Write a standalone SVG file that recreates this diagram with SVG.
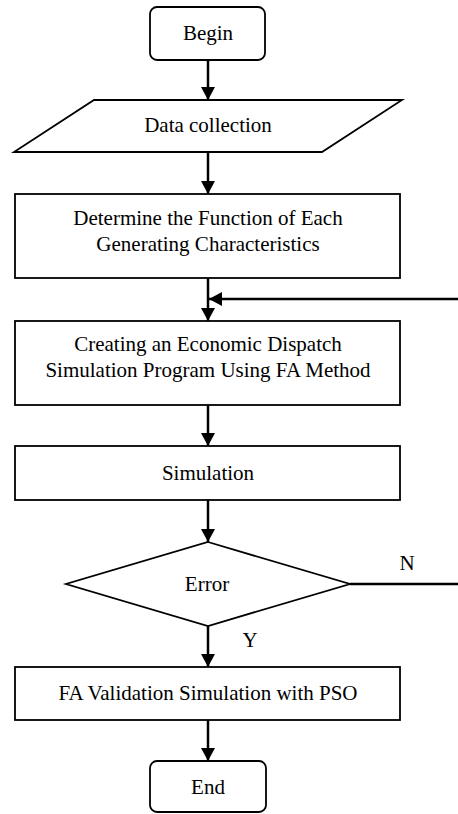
<svg xmlns="http://www.w3.org/2000/svg" width="458" height="814" viewBox="0 0 458 814">
<defs>
<style>
.shape{fill:#fff;stroke:#000;stroke-width:1.8}
.t{font-family:"Liberation Serif","Times New Roman",serif;font-size:21px;fill:#000;text-anchor:middle}
.c{fill:none;stroke:#000;stroke-width:2.5}
</style>
<marker id="ah" markerUnits="userSpaceOnUse" markerWidth="14" markerHeight="14" refX="13" refY="7" orient="auto">
<path d="M0,0 L13,7 L0,14 Z" fill="#000"/>
</marker>
</defs>
<rect width="458" height="814" fill="#fff"/>
<g id="connectors">
<line class="c" x1="208" y1="60" x2="208" y2="100" marker-end="url(#ah)"/>
<line class="c" x1="208" y1="152" x2="208" y2="194" marker-end="url(#ah)"/>
<line class="c" x1="208" y1="278" x2="208" y2="321" marker-end="url(#ah)"/>
<line class="c" x1="458" y1="299" x2="209" y2="299" marker-end="url(#ah)"/>
<line class="c" x1="208" y1="405" x2="208" y2="446" marker-end="url(#ah)"/>
<line class="c" x1="208" y1="500" x2="208" y2="542" marker-end="url(#ah)"/>
<line class="c" x1="350" y1="584" x2="458" y2="584"/>
<line class="c" x1="208" y1="626" x2="208" y2="667" marker-end="url(#ah)"/>
<line class="c" x1="208" y1="720" x2="208" y2="761" marker-end="url(#ah)"/>
<text class="t" x="407" y="570">N</text>
<text class="t" x="250" y="647">Y</text>
</g>
<g id="begin">
<rect class="shape" x="150" y="7" width="115" height="53" rx="7"/>
<text class="t" x="208" y="40">Begin</text>
</g>
<g id="data">
<polygon class="shape" points="94,100 402,100 322,152 14,152"/>
<text class="t" x="208" y="132">Data collection</text>
</g>
<g id="determine">
<rect class="shape" x="15" y="194" width="385" height="84"/>
<text class="t" x="208" y="225">Determine the Function of Each</text>
<text class="t" x="208" y="251">Generating Characteristics</text>
</g>
<g id="creating">
<rect class="shape" x="15" y="321" width="385" height="84"/>
<text class="t" x="208" y="351">Creating an Economic Dispatch</text>
<text class="t" x="208" y="377">Simulation Program Using FA Method</text>
</g>
<g id="simulation">
<rect class="shape" x="15" y="446" width="385" height="54"/>
<text class="t" x="208" y="480">Simulation</text>
</g>
<g id="error">
<polygon class="shape" points="208,542 350,584 208,626 66,584"/>
<text class="t" x="207" y="591">Error</text>
</g>
<g id="validation">
<rect class="shape" x="15" y="667" width="385" height="53"/>
<text class="t" x="208" y="700">FA Validation Simulation with PSO</text>
</g>
<g id="end">
<rect class="shape" x="150" y="761" width="116" height="51" rx="7"/>
<text class="t" x="208" y="794">End</text>
</g>
</svg>
